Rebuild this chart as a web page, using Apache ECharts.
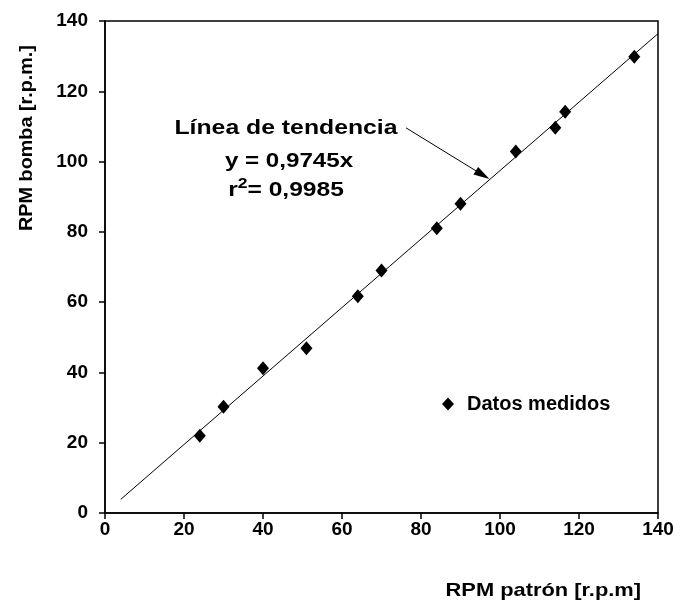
<!DOCTYPE html>
<html><head><meta charset="utf-8">
<script src="https://cdn.jsdelivr.net/npm/echarts@6/dist/echarts.min.js"></script>
<style>html,body{margin:0;padding:0;background:#fff}#c{width:680px;height:608px}</style>
</head><body><div id="c"></div>
<script>
const rpmPatron = [24, 30, 40, 51, 64, 70, 84, 90, 104, 114, 116.5, 134];
const rpmBomba  = [22, 30.2, 41.2, 46.9, 61.7, 69, 81, 88, 102.9, 109.6, 114.2, 129.8];
const trendX = [4, 140];
const trendY = [3.9, 136.4];
const arrowFrom = [76.2, 109.6];
const arrowTo = [95.6, 96.2];
const xTicks = [0, 20, 40, 60, 80, 100, 120, 140];
const yTicks = [0, 20, 40, 60, 80, 100, 120, 140];

const F = '"Liberation Sans", Arial, sans-serif';
const chart = echarts.init(document.getElementById('c'));
const axisCommon = {
  type: 'value', min: 0, max: 140, interval: 20,
  axisLine: {show: true, onZero: false, lineStyle: {color: '#000', width: 1.5}},
  axisTick: {show: true, inside: false, length: 6, lineStyle: {color: '#000', width: 1.5}},
  splitLine: {show: false},
  axisLabel: {color: '#000', fontFamily: F, fontWeight: 'bold', fontSize: 19}
};
chart.setOption({
  animation: false,
  backgroundColor: '#fff',
  grid: {left: 105, right: 22, top: 21, bottom: 95, show: true, borderColor: '#000', borderWidth: 1.5, containLabel: false},
  xAxis: Object.assign({}, axisCommon, {
    axisLabel: Object.assign({}, axisCommon.axisLabel, {margin: 7, formatter: v => xTicks.includes(v) ? String(v) : ''})
  }),
  yAxis: Object.assign({}, axisCommon, {
    axisLabel: Object.assign({}, axisCommon.axisLabel, {margin: 17, formatter: v => yTicks.includes(v) ? String(v) : ''})
  }),
  legend: {
    left: 437, top: 389, itemWidth: 12, itemHeight: 13, itemGap: 14,
    data: [{name: 'Datos medidos', icon: 'diamond'}],
    textStyle: {color: '#000', fontFamily: F, fontWeight: 'bold', fontSize: 20, padding: [0, 0, 0, 8]}
  },
  series: [
    {
      name: 'Tendencia', type: 'line', symbol: 'none', silent: true,
      data: trendX.map((x, i) => [x, trendY[i]]),
      lineStyle: {color: '#000', width: 1},
      markLine: {
        silent: true, symbol: ['none', 'triangle'], symbolSize: [9, 16],
        label: {show: false},
        lineStyle: {color: '#000', width: 1, type: 'solid'},
        data: [[{coord: arrowFrom}, {coord: arrowTo}]]
      }
    },
    {
      name: 'Datos medidos', type: 'scatter', symbol: 'diamond', symbolSize: [12, 14],
      itemStyle: {color: '#000', opacity: 1},
      data: rpmPatron.map((x, i) => [x, rpmBomba[i]])
    }
  ],
  graphic: [
    {type: 'text', x: 286, y: 128, scaleX: 1.18, style: {text: 'Línea de tendencia', fill: '#000', font: 'bold 21px ' + F, align: 'center', verticalAlign: 'middle'}},
    {type: 'text', x: 289, y: 161, scaleX: 1.15, style: {text: 'y = 0,9745x', fill: '#000', font: 'bold 21px ' + F, align: 'center', verticalAlign: 'middle'}},
    {type: 'text', x: 286, y: 190, scaleX: 1.17, style: {rich: {a: {fill:'#000', font: 'bold 21px ' + F}, s: {fill:'#000', font: 'bold 15px ' + F, verticalAlign: 'top', padding: [0, 0, 12, 0]}}, text: '{a|r}{s|2}{a|= 0,9985}', align: 'center', verticalAlign: 'middle'}},
    {type: 'text', x: 27, y: 138, rotation: Math.PI / 2, scaleX: 1.1, style: {text: 'RPM bomba [r.p.m.]', fill: '#000', font: 'bold 18px ' + F, align: 'center', verticalAlign: 'middle'}},
    {type: 'text', x: 641, y: 591, scaleX: 1.15, style: {text: 'RPM patrón [r.p.m]', fill: '#000', font: 'bold 19px ' + F, align: 'right', verticalAlign: 'middle'}}
  ]
});
</script></body></html>
